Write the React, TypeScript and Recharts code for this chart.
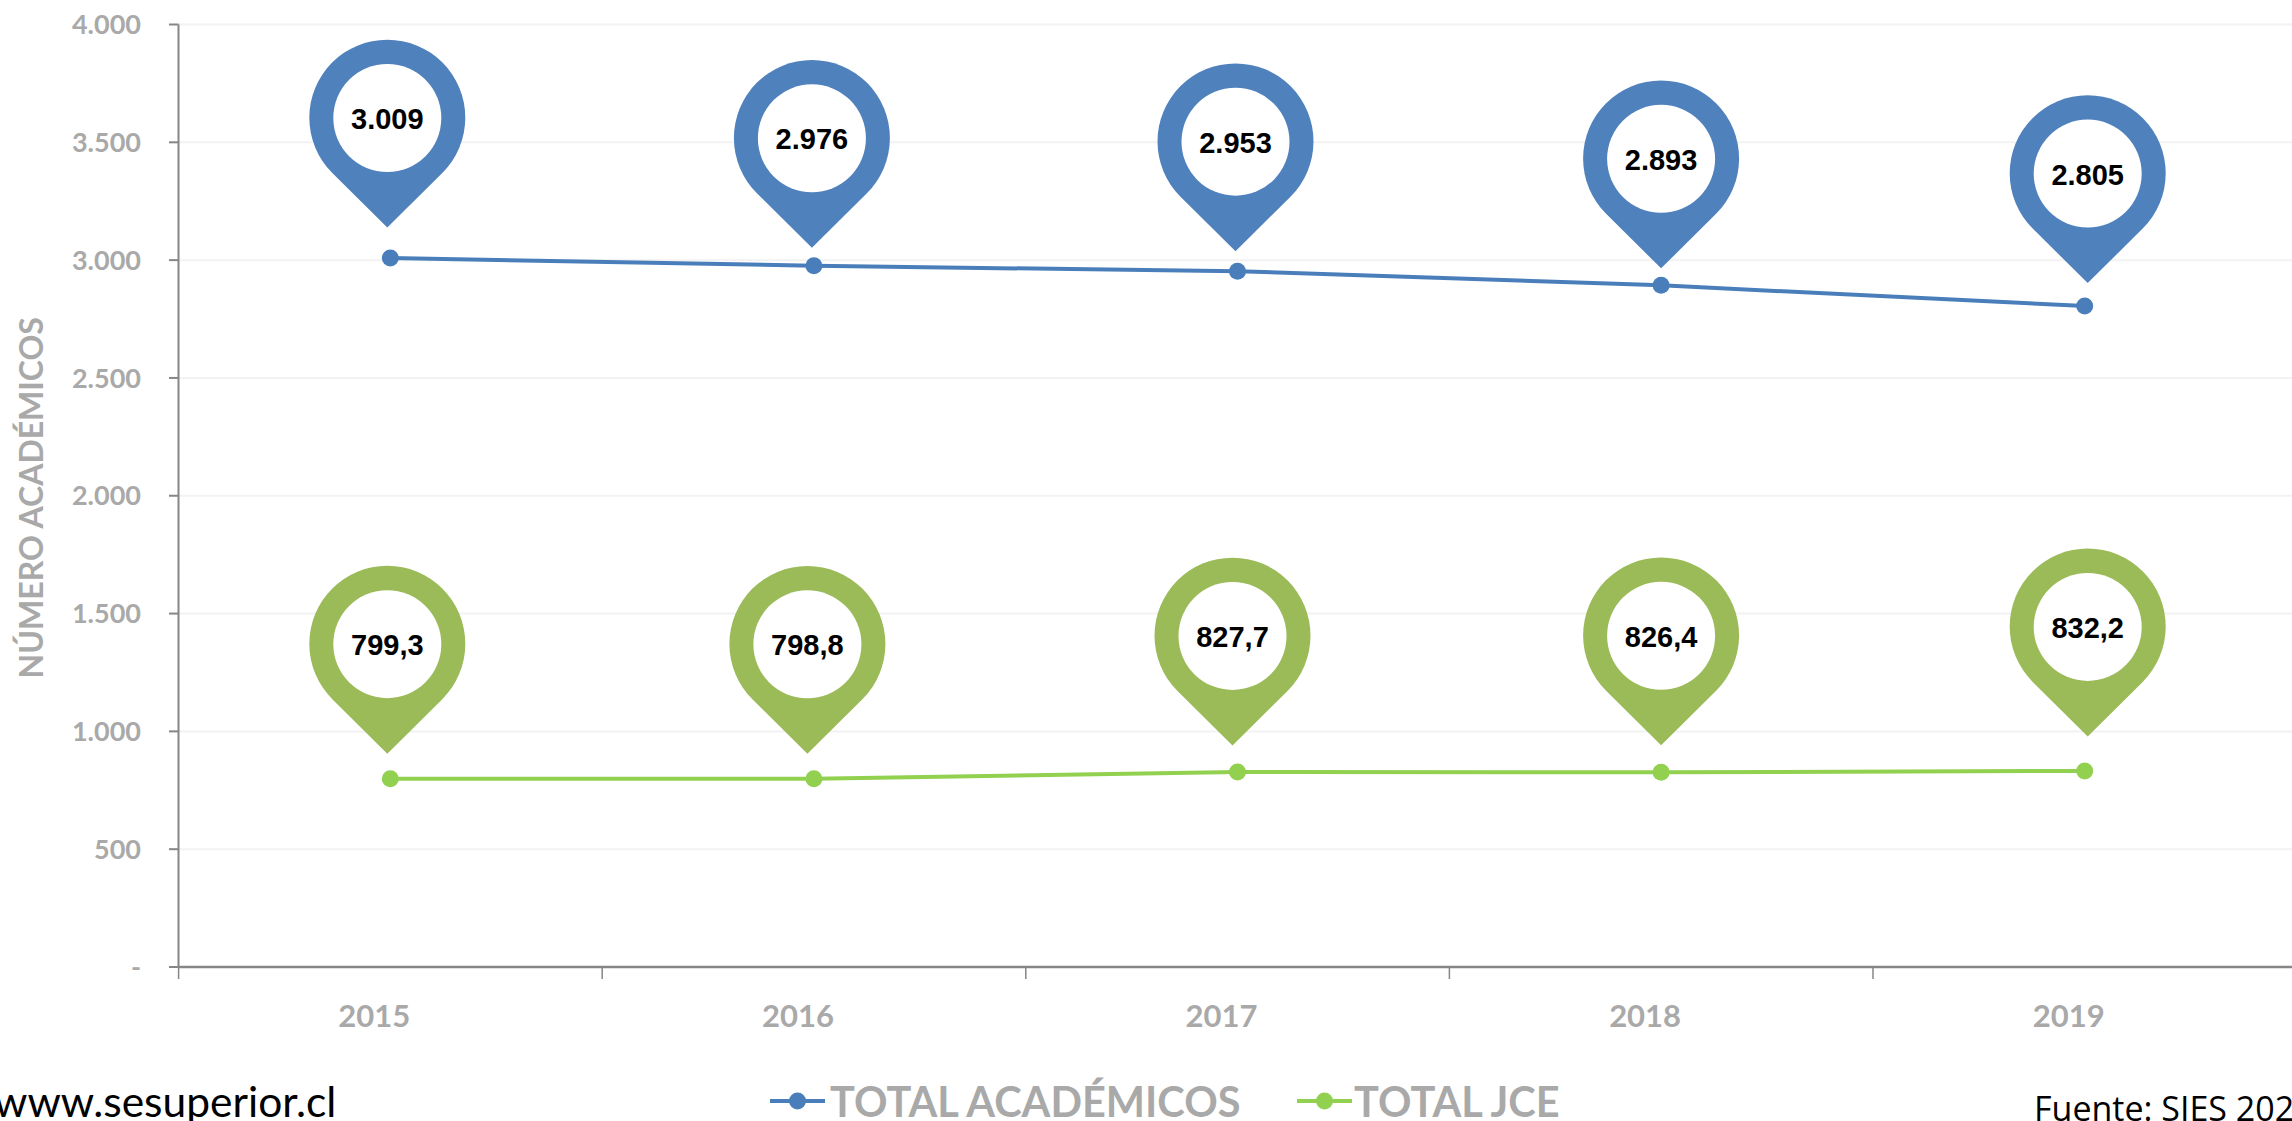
import React from "react";
import { LineChart, Line, XAxis, YAxis, CartesianGrid, LabelList, Legend, Label } from "recharts";

const years = ["2015", "2016", "2017", "2018", "2019"];
const totalAcademicos = [3009, 2976, 2953, 2893, 2805];
const totalJce = [799.3, 798.8, 827.7, 826.4, 832.2];
const yTicks = [0, 500, 1000, 1500, 2000, 2500, 3000, 3500, 4000];
const seriesNames = ["TOTAL ACADÉMICOS", "TOTAL JCE"];

// hand-placed pin offsets from each data point (the reference's callouts are not uniformly placed)
const bluePinDx = [-3, -2, -2, 0, 3];
const bluePinGap = [30.5, 18, 20, 17, 23];
const greenPinDx = [-3, -6.5, -5, 0, 3];
const greenPinGap = [25, 25, 26.5, 27, 34.5];

const data = years.map((year, i) => ({ year, academicos: totalAcademicos[i], jce: totalJce[i] }));

const BLUE_PIN = "#4F81BD";
const GREEN_PIN = "#9BBB59";
const BLUE_LINE = "#4A7EBB";
const GREEN_LINE = "#92D050";
const GREY = "#A9A9A9";
const AXIS = "#868686";
const CALIBRI = "Lato, Carlito, sans-serif";

const fmtY = (v: number) => (v === 0 ? "-" : v.toLocaleString("de-DE"));
const fmtBlue = (v: number) => v.toLocaleString("de-DE");
const fmtGreen = (v: number) => v.toFixed(1).replace(".", ",");

function Pin({ x, y, value, index, color, dxs, gaps, fmt }: any) {
  const R = 78;
  const inner = 54;
  const tipDist = 109.5;
  const shoulder = 55;
  const tipX = x + dxs[index];
  const tipY = y - gaps[index];
  const cy = tipY - tipDist;
  const d = `M${tipX} ${tipY} L${tipX - shoulder} ${cy + shoulder} A${R} ${R} 0 1 1 ${tipX + shoulder} ${cy + shoulder} Z`;
  return (
    <g>
      <path d={d} fill={color} />
      <circle cx={tipX} cy={cy} r={inner} fill="#fff" />
      <text
        x={tipX}
        y={cy + 1}
        textAnchor="middle"
        dominantBaseline="central"
        fontFamily="'Liberation Sans', Arial, sans-serif"
        fontWeight="700"
        fontSize={29}
        fill="#000"
      >
        {fmt(Number(value))}
      </text>
    </g>
  );
}

function XTick({ x, y, payload }: any) {
  const half = 211.7;
  return (
    <g>
      <line x1={x - half} x2={x - half} y1={967} y2={979} stroke={AXIS} strokeWidth={1.5} />
      <text
        x={x - 16}
        y={1015}
        textAnchor="middle"
        dominantBaseline="central"
        fontFamily={CALIBRI}
        fontWeight="700"
        fontSize={31}
        fill={GREY}
      >
        {payload.value}
      </text>
    </g>
  );
}

function LegendEntry({ color, name, left, gap }: { color: string; name: string; left: number; gap: number }) {
  return (
    <div style={{ position: "absolute", left, top: 0, height: 41, display: "flex", alignItems: "center", whiteSpace: "nowrap" }}>
      <svg width={55} height={24} style={{ display: "block" }}>
        <line x1={0} x2={55} y1={12} y2={12} stroke={color} strokeWidth={4} />
        <circle cx={27.5} cy={12} r={8.5} fill={color} />
      </svg>
      <span style={{ marginLeft: gap, fontFamily: CALIBRI, fontWeight: 700, fontSize: 41.5, color: GREY, lineHeight: "41px" }}>{name}</span>
    </div>
  );
}

function ChartLegend() {
  return (
    <div style={{ position: "relative", width: 2292, height: 41 }}>
      <LegendEntry color={BLUE_LINE} name={seriesNames[0]} left={770} gap={5} />
      <LegendEntry color={GREEN_LINE} name={seriesNames[1]} left={1297} gap={2} />
    </div>
  );
}

export default function App() {
  return (
    <div style={{ position: "fixed", left: 0, top: 0, width: 2292, height: 1121, overflow: "hidden", background: "#fff" }}>
      <LineChart width={2300} height={1121} data={data} margin={{ top: 24.5, right: 3.5, bottom: 0, left: 0 }}>
        <CartesianGrid vertical={false} stroke="#F2F2F2" strokeWidth={2} />
        <XAxis
          dataKey="year"
          scale="band"
          padding={{ left: 0, right: 0 }}
          axisLine={{ stroke: AXIS, strokeWidth: 2.5 }}
          tickLine={false}
          tick={<XTick />}
          interval={0}
          height={113}
        />
        <YAxis
          width={178.5}
          domain={[0, 4000]}
          ticks={yTicks}
          interval={0}
          tickFormatter={fmtY}
          axisLine={{ stroke: AXIS, strokeWidth: 2 }}
          tickLine={{ stroke: AXIS, strokeWidth: 2 }}
          tickSize={9.5}
          tickMargin={28}
          tick={{ fontFamily: CALIBRI, fontWeight: 700, fontSize: 27, fill: GREY }}
        >
          <Label
            value="NÚMERO ACADÉMICOS"
            angle={-90}
            position="insideLeft"
            offset={0}
            dx={32}
            dy={2}
            style={{ fontFamily: CALIBRI, fontWeight: 700, fontSize: 32, fill: GREY, textAnchor: "middle" }}
          />
        </YAxis>
        <Legend content={<ChartLegend />} wrapperStyle={{ position: "absolute", left: 0, top: 1080.5, width: 2292, bottom: "auto" }} />
        <Line
          dataKey="academicos"
          name={seriesNames[0]}
          stroke={BLUE_LINE}
          strokeWidth={4}
          dot={{ r: 8.5, fill: BLUE_LINE, stroke: BLUE_LINE, strokeWidth: 0 }}
          isAnimationActive={false}
        >
          <LabelList
            dataKey="academicos"
            content={(p: any) => <Pin {...p} color={BLUE_PIN} dxs={bluePinDx} gaps={bluePinGap} fmt={fmtBlue} />}
          />
        </Line>
        <Line
          dataKey="jce"
          name={seriesNames[1]}
          stroke={GREEN_LINE}
          strokeWidth={4}
          dot={{ r: 8.5, fill: GREEN_LINE, stroke: GREEN_LINE, strokeWidth: 0 }}
          isAnimationActive={false}
        >
          <LabelList
            dataKey="jce"
            content={(p: any) => <Pin {...p} color={GREEN_PIN} dxs={greenPinDx} gaps={greenPinGap} fmt={fmtGreen} />}
          />
        </Line>
      </LineChart>
      <div style={{ position: "absolute", left: -6, top: 1076, fontFamily: CALIBRI, fontSize: 42.5, color: "#000", whiteSpace: "nowrap", lineHeight: "50px" }}>
        www.sesuperior.cl
      </div>
      <div style={{ position: "absolute", left: 2034, top: 1086, fontFamily: "'Open Sans', sans-serif", fontSize: 34, color: "#000", whiteSpace: "nowrap", lineHeight: "44px" }}>
        Fuente: SIES 2020
      </div>
    </div>
  );
}
